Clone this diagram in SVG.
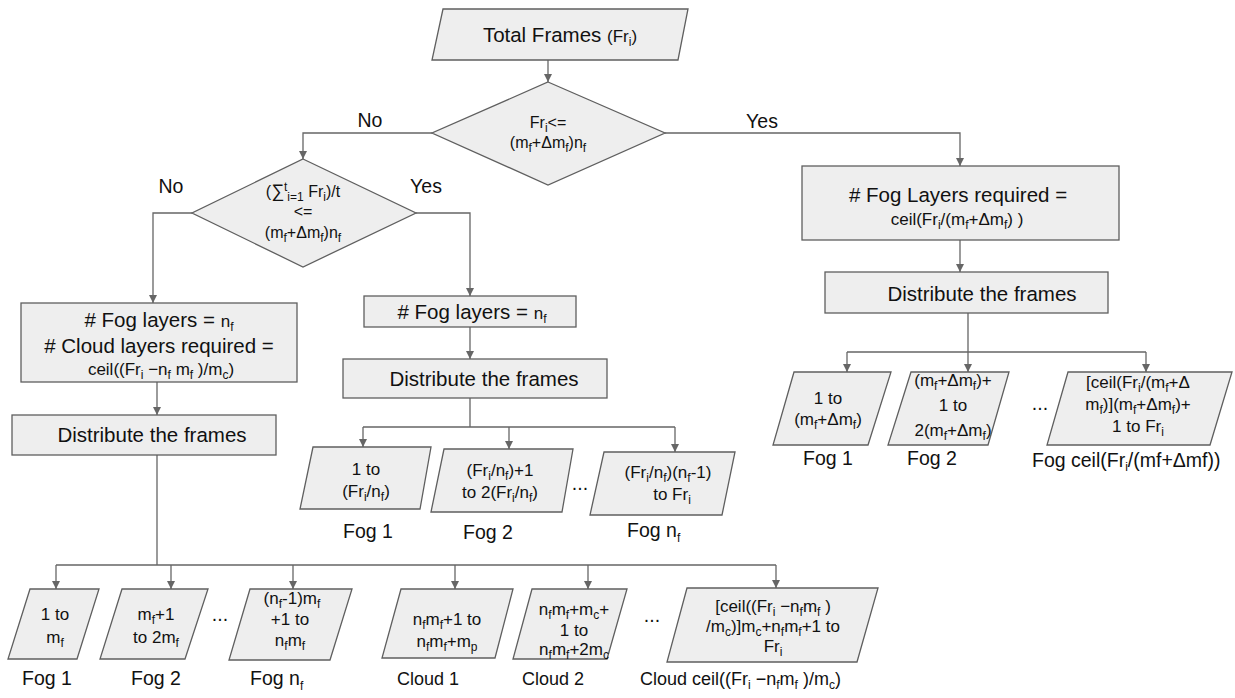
<svg xmlns="http://www.w3.org/2000/svg" width="1235" height="698" viewBox="0 0 1235 698">
<style>
.n{fill:#eeeeee;stroke:#5f5f5f;stroke-width:1.3}
.c{fill:none;stroke:#666666;stroke-width:1.3}
text{font-family:"Liberation Sans",Arial,sans-serif;fill:#111111;text-anchor:middle}
.L{font-size:20.5px}
.M{font-size:17px}
.D{font-size:16px}
.lab{font-size:19.5px}
.cl{font-size:18px}
.st{text-anchor:start}
.s{font-size:12px}
</style>
<defs>
<marker id="a" markerWidth="8" markerHeight="8" refX="8" refY="4" orient="auto" markerUnits="userSpaceOnUse"><path d="M0,0 L8,4 L0,8 z" fill="#666666"/></marker>
</defs>
<rect width="1235" height="698" fill="#ffffff"/>

<g id="connectors">
<path class="c" d="M548,60 V82" marker-end="url(#a)"/>
<path class="c" d="M432,133 H303 V159" marker-end="url(#a)"/>
<path class="c" d="M665,133 H960 V166" marker-end="url(#a)"/>
<path class="c" d="M192,213 H153 V303" marker-end="url(#a)"/>
<path class="c" d="M416,213 H470 V296" marker-end="url(#a)"/>
<path class="c" d="M157,382 V415" marker-end="url(#a)"/>
<path class="c" d="M157,455 V565 M56,565 H776"/>
<path class="c" d="M56,565 V589" marker-end="url(#a)"/>
<path class="c" d="M171,565 V589" marker-end="url(#a)"/>
<path class="c" d="M293,565 V589" marker-end="url(#a)"/>
<path class="c" d="M455,565 V589" marker-end="url(#a)"/>
<path class="c" d="M588,565 V589" marker-end="url(#a)"/>
<path class="c" d="M776,565 V588" marker-end="url(#a)"/>
<path class="c" d="M470,327 V359" marker-end="url(#a)"/>
<path class="c" d="M470,398 V427 M363,427 H675"/>
<path class="c" d="M363,427 V447" marker-end="url(#a)"/>
<path class="c" d="M509,427 V449" marker-end="url(#a)"/>
<path class="c" d="M675,427 V452" marker-end="url(#a)"/>
<path class="c" d="M960,240 V272" marker-end="url(#a)"/>
<path class="c" d="M968,313 V352 M847,352 H1146"/>
<path class="c" d="M847,352 V372" marker-end="url(#a)"/>
<path class="c" d="M968,352 V372" marker-end="url(#a)"/>
<path class="c" d="M1146,352 V372" marker-end="url(#a)"/>
<text class="lab" x="370" y="127">No</text>
<text class="lab" x="762" y="128">Yes</text>
<text class="lab" x="171" y="193">No</text>
<text class="lab" x="426" y="193">Yes</text>
</g>

<g id="start">
<polygon class="n" points="443,9 688,9 678,60 432,60"/>
<text class="L" x="560" y="42">Total Frames <tspan font-size="17">(Fr</tspan><tspan class="s" dy="4">i</tspan><tspan font-size="17" dy="-4">)</tspan></text>
</g>

<g id="decision1">
<polygon class="n" points="548,82 665,133 548,185 432,133"/>
<text class="D" x="548" y="128">Fr<tspan class="s" dy="4">i</tspan><tspan dy="-4">&lt;=</tspan></text>
<text class="D" x="548" y="148">(m<tspan class="s" dy="4">f</tspan><tspan dy="-4">+Δm</tspan><tspan class="s" dy="4">f</tspan><tspan dy="-4">)n</tspan><tspan class="s" dy="4">f</tspan></text>
</g>

<g id="decision2">
<polygon class="n" points="303,159 416,213 303,267 192,213"/>
<text class="D" x="303" y="197">(<tspan font-size="18">∑</tspan><tspan class="s" dy="-6">t</tspan><tspan class="s" dy="10">i=1</tspan><tspan dy="-4"> Fr</tspan><tspan class="s" dy="4">i</tspan><tspan dy="-4">)/t</tspan></text>
<text class="D" x="303" y="217">&lt;=</text>
<text class="D" x="303" y="238">(m<tspan class="s" dy="4">f</tspan><tspan dy="-4">+Δm</tspan><tspan class="s" dy="4">f</tspan><tspan dy="-4">)n</tspan><tspan class="s" dy="4">f</tspan></text>
</g>

<g id="fogLayersRequired">
<rect class="n" x="802" y="166" width="317" height="74"/>
<text class="L" x="958" y="202"># Fog Layers required =</text>
<text class="M" x="957" y="225">ceil(Fr<tspan class="s" dy="4">i</tspan><tspan dy="-4">/(m</tspan><tspan class="s" dy="4">f</tspan><tspan dy="-4">+Δm</tspan><tspan class="s" dy="4">f</tspan><tspan dy="-4">) )</tspan></text>
</g>

<g id="distributeRight">
<rect class="n" x="825" y="272" width="283" height="41"/>
<text class="L" x="982" y="301">Distribute the frames</text>
</g>

<g id="fogCloudLayers">
<rect class="n" x="21" y="303" width="276" height="79"/>
<text class="L" x="159" y="327"># Fog layers = <tspan font-size="17">n</tspan><tspan class="s" dy="4">f</tspan></text>
<text class="L" x="159" y="353"># Cloud layers required =</text>
<text class="M" x="161" y="375">ceil((Fr<tspan class="s" dy="4">i</tspan><tspan dy="-4"> −n</tspan><tspan class="s" dy="4">f</tspan><tspan dy="-4"> m</tspan><tspan class="s" dy="4">f</tspan><tspan dy="-4"> )/m</tspan><tspan class="s" dy="4">c</tspan><tspan dy="-4">)</tspan></text>
</g>

<g id="distributeLeft">
<rect class="n" x="12" y="415" width="264" height="40"/>
<text class="L" x="152" y="442">Distribute the frames</text>
</g>

<g id="fogLayersMid">
<rect class="n" x="364" y="296" width="212" height="31"/>
<text class="L" x="472" y="319"># Fog layers = <tspan font-size="17">n</tspan><tspan class="s" dy="4">f</tspan></text>
</g>

<g id="distributeMid">
<rect class="n" x="343" y="359" width="264" height="39"/>
<text class="L" x="484" y="386">Distribute the frames</text>
</g>

<g id="midFog1">
<polygon class="n" points="313,447 431,447 420,509 300,509"/>
<text class="M" x="366" y="475">1 to</text>
<text class="M" x="366" y="497">(Fr<tspan class="s" dy="4">i</tspan><tspan dy="-4">/n</tspan><tspan class="s" dy="4">f</tspan><tspan dy="-4">)</tspan></text>
<text class="lab" x="368" y="538">Fog 1</text>
</g>
<g id="midFog2">
<polygon class="n" points="444,449 573,449 562,512 431,512"/>
<text class="M" x="500" y="476">(Fr<tspan class="s" dy="4">i</tspan><tspan dy="-4">/n</tspan><tspan class="s" dy="4">f</tspan><tspan dy="-4">)+1</tspan></text>
<text class="M" x="500" y="498">to 2(Fr<tspan class="s" dy="4">i</tspan><tspan dy="-4">/n</tspan><tspan class="s" dy="4">f</tspan><tspan dy="-4">)</tspan></text>
<text class="lab" x="488" y="539">Fog 2</text>
</g>
<text class="lab" x="580" y="490">...</text>
<g id="midFogN">
<polygon class="n" points="604,452 735,452 722,515 590,515"/>
<text class="M" x="668" y="478">(Fr<tspan class="s" dy="4">i</tspan><tspan dy="-4">/n</tspan><tspan class="s" dy="4">f</tspan><tspan dy="-4">)(n</tspan><tspan class="s" dy="4">f</tspan><tspan dy="-4">-1)</tspan></text>
<text class="M" x="672" y="500">to Fr<tspan class="s" dy="4">i</tspan></text>
<text class="lab st" x="627" y="537">Fog n<tspan class="s" dy="5">f</tspan></text>
</g>

<g id="rightFog1">
<polygon class="n" points="794,372 891,372 868,445 773,445"/>
<text class="M" x="828" y="404">1 to</text>
<text class="M" x="828" y="425">(m<tspan class="s" dy="4">f</tspan><tspan dy="-4">+Δm</tspan><tspan class="s" dy="4">f</tspan><tspan dy="-4">)</tspan></text>
<text class="lab" x="828" y="465">Fog 1</text>
</g>
<g id="rightFog2">
<polygon class="n" points="911,372 1009,372 988,445 888,445"/>
<text class="M" x="953" y="386">(m<tspan class="s" dy="4">f</tspan><tspan dy="-4">+Δm</tspan><tspan class="s" dy="4">f</tspan><tspan dy="-4">)+</tspan></text>
<text class="M" x="953" y="411">1 to</text>
<text class="M" x="953" y="436">2(m<tspan class="s" dy="4">f</tspan><tspan dy="-4">+Δm</tspan><tspan class="s" dy="4">f</tspan><tspan dy="-4">)</tspan></text>
<text class="lab" x="932" y="465">Fog 2</text>
</g>
<text class="lab" x="1040" y="410">...</text>
<g id="rightFogN">
<polygon class="n" points="1068,372 1232,372 1210,445 1047,445"/>
<text class="M" x="1138" y="388">[ceil(Fr<tspan class="s" dy="4">i</tspan><tspan dy="-4">/(m</tspan><tspan class="s" dy="4">f</tspan><tspan dy="-4">+Δ</tspan></text>
<text class="M" x="1138" y="410">m<tspan class="s" dy="4">f</tspan><tspan dy="-4">)](m</tspan><tspan class="s" dy="4">f</tspan><tspan dy="-4">+Δm</tspan><tspan class="s" dy="4">f</tspan><tspan dy="-4">)+</tspan></text>
<text class="M" x="1138" y="432">1 to Fr<tspan class="s" dy="4">i</tspan></text>
<text class="lab st" x="1032" y="467">Fog ceil(Fr<tspan class="s" dy="4">i</tspan><tspan dy="-4">/(mf+Δmf))</tspan></text>
</g>

<g id="botFog1">
<polygon class="n" points="30,589 99,589 77,659 8,659"/>
<text class="M" x="55" y="620">1 to</text>
<text class="M" x="55" y="643">m<tspan class="s" dy="4">f</tspan></text>
<text class="lab" x="47" y="685">Fog 1</text>
</g>
<g id="botFog2">
<polygon class="n" points="122,589 208,589 185,659 100,659"/>
<text class="M" x="156" y="620">m<tspan class="s" dy="4">f</tspan><tspan dy="-4">+1</tspan></text>
<text class="M" x="156" y="643">to 2m<tspan class="s" dy="4">f</tspan></text>
<text class="lab" x="156" y="685">Fog 2</text>
</g>
<text class="lab" x="220" y="621">...</text>
<g id="botFogN">
<polygon class="n" points="250,589 352,589 330,660 229,660"/>
<text class="M" x="292" y="604">(n<tspan class="s" dy="4">f</tspan><tspan dy="-4">-1)m</tspan><tspan class="s" dy="4">f</tspan></text>
<text class="M" x="290" y="625">+1 to</text>
<text class="M" x="290" y="646">n<tspan class="s" dy="4">f</tspan><tspan dy="-4">m</tspan><tspan class="s" dy="4">f</tspan></text>
<text class="lab st" x="250" y="685">Fog n<tspan class="s" dy="5">f</tspan></text>
</g>
<g id="cloud1">
<polygon class="n" points="401,589 513,589 495,658 382,658"/>
<text class="M" x="447" y="625">n<tspan class="s" dy="4">f</tspan><tspan dy="-4">m</tspan><tspan class="s" dy="4">f</tspan><tspan dy="-4">+1 to</tspan></text>
<text class="M" x="447" y="647">n<tspan class="s" dy="4">f</tspan><tspan dy="-4">m</tspan><tspan class="s" dy="4">f</tspan><tspan dy="-4">+m</tspan><tspan class="s" dy="4">p</tspan></text>
<text class="cl st" x="397" y="685">Cloud 1</text>
</g>
<g id="cloud2">
<polygon class="n" points="532,589 627,589 607,659 513,659"/>
<text class="M" x="574" y="615">n<tspan class="s" dy="4">f</tspan><tspan dy="-4">m</tspan><tspan class="s" dy="4">f</tspan><tspan dy="-4">+m</tspan><tspan class="s" dy="4">c</tspan><tspan dy="-4">+</tspan></text>
<text class="M" x="574" y="636">1 to</text>
<text class="M" x="574" y="655">n<tspan class="s" dy="4">f</tspan><tspan dy="-4">m</tspan><tspan class="s" dy="4">f</tspan><tspan dy="-4">+2m</tspan><tspan class="s" dy="4">c</tspan></text>
<text class="cl st" x="522" y="685">Cloud 2</text>
</g>
<text class="lab" x="652" y="622">...</text>
<g id="cloudN">
<polygon class="n" points="687,588 878,588 857,662 667,662"/>
<text class="M" x="773" y="612">[ceil((Fr<tspan class="s" dy="4">i</tspan><tspan dy="-4"> −n</tspan><tspan class="s" dy="4">f</tspan><tspan dy="-4">m</tspan><tspan class="s" dy="4">f</tspan><tspan dy="-4"> )</tspan></text>
<text class="M" x="773" y="632">/m<tspan class="s" dy="4">c</tspan><tspan dy="-4">)]m</tspan><tspan class="s" dy="4">c</tspan><tspan dy="-4">+n</tspan><tspan class="s" dy="4">f</tspan><tspan dy="-4">m</tspan><tspan class="s" dy="4">f</tspan><tspan dy="-4">+1 to</tspan></text>
<text class="M" x="773" y="652">Fr<tspan class="s" dy="4">i</tspan></text>
<text class="cl st" x="640" y="685">Cloud ceil((Fr<tspan class="s" dy="4">i</tspan><tspan dy="-4"> −n</tspan><tspan class="s" dy="4">f</tspan><tspan dy="-4">m</tspan><tspan class="s" dy="4">f</tspan><tspan dy="-4"> )/m</tspan><tspan class="s" dy="4">c</tspan><tspan dy="-4">)</tspan></text>
</g>
</svg>
